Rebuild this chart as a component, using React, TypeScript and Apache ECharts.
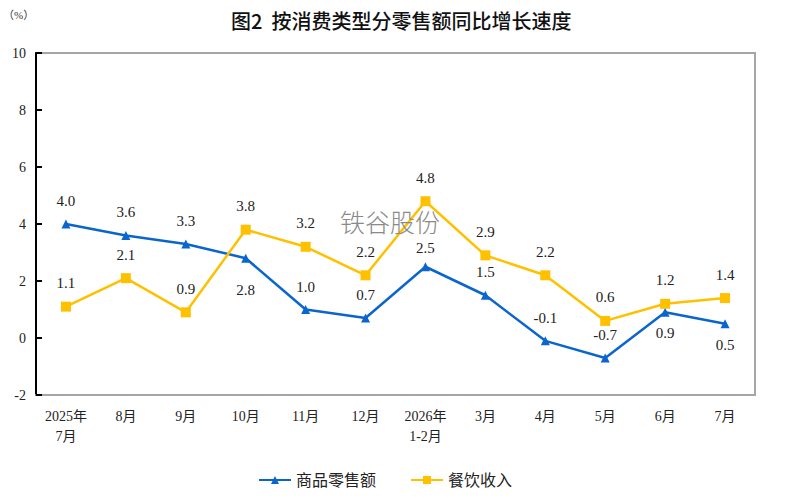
import React, { useEffect, useRef } from "react";
import * as echarts from "echarts";

const categories = ["2025年\n7月", "8月", "9月", "10月", "11月", "12月", "2026年\n1-2月", "3月", "4月", "5月", "6月", "7月"];
const retailValues = [4.0, 3.6, 3.3, 2.8, 1.0, 0.7, 2.5, 1.5, -0.1, -0.7, 0.9, 0.5];
const cateringValues = [1.1, 2.1, 0.9, 3.8, 3.2, 2.2, 4.8, 2.9, 2.2, 0.6, 1.2, 1.4];
const retailLabelPos = ["top", "top", "top", "bottom", "top", "top", "top", "top", "top", "top", "bottom", "bottom"];
const yTicks = { min: -2, max: 10, interval: 2 };

const serif = "'Liberation Serif', 'Times New Roman', 'Noto Sans CJK SC', serif";

export default function App() {
  const ref = useRef<HTMLDivElement>(null);
  useEffect(() => {
    if (!ref.current) return;
    const chart = echarts.init(ref.current, undefined, { renderer: "svg" });
    chart.setOption({
      animation: false,
      backgroundColor: "#ffffff",
      title: {
        text: "图2  按消费类型分零售额同比增长速度",
        left: 226,
        top: 5,
        textStyle: { fontFamily: "'Noto Sans CJK SC', sans-serif", fontSize: 20, fontWeight: 500, color: "#111" },
      },
      graphic: [
        { type: "text", left: 3, top: 9, style: { text: "（%）", font: `11px ${serif}`, fill: "#333" } },
        { type: "text", left: 340, top: 208, z: 100, style: { text: "铁谷股份", font: "300 25px 'Noto Sans CJK SC', sans-serif", lineHeight: 25, fill: "#8a8a8a" } },
      ],
      legend: {
        top: 467,
        left: 253,
        itemGap: 34,
        itemWidth: 32,
        itemHeight: 10,
        textStyle: { fontFamily: serif, fontSize: 16, color: "#222" },
        data: ["商品零售额", "餐饮收入"],
      },
      grid: { left: 36, right: 32, top: 53, bottom: 104, show: true, borderColor: "#a6a6a6", borderWidth: 2 },
      xAxis: {
        type: "category",
        data: categories,
        boundaryGap: true,
        axisLine: { show: true, onZero: false, lineStyle: { color: "#a6a6a6", width: 2 } },
        axisTick: { show: false },
        axisLabel: { fontFamily: serif, fontSize: 14, color: "#222", margin: 11, lineHeight: 20, interval: 0 },
      },
      yAxis: {
        type: "value",
        min: yTicks.min,
        max: yTicks.max,
        interval: yTicks.interval,
        splitLine: { show: false },
        axisLine: { show: true, lineStyle: { color: "#000", width: 2 } },
        axisTick: { show: true, inside: true, length: 6, lineStyle: { color: "#000", width: 2 } },
        axisLabel: { fontFamily: serif, fontSize: 14, color: "#222", margin: 10 },
      },
      series: [
        {
          name: "商品零售额",
          type: "line",
          data: retailValues.map((v, i) => ({
            value: v,
            label: { position: retailLabelPos[i], distance: retailLabelPos[i] === "bottom" ? (i === 3 ? 20 : 9) : (i === 6 ? 7 : 11) },
          })),
          symbol: "triangle",
          symbolSize: 9,
          itemStyle: { color: "#0a66cc" },
          lineStyle: { color: "#0a66cc", width: 2.5 },
          label: { show: true, fontFamily: serif, fontSize: 15, color: "#222", formatter: (p: any) => p.value.toFixed(1) },
        },
        {
          name: "餐饮收入",
          type: "line",
          data: cateringValues,
          symbol: "rect",
          symbolSize: 10,
          itemStyle: { color: "#ffc000" },
          lineStyle: { color: "#ffc000", width: 2.5 },
          label: { show: true, position: "top", distance: 11, fontFamily: serif, fontSize: 15, color: "#222", formatter: (p: any) => p.value.toFixed(1) },
        },
      ],
    });
    return () => chart.dispose();
  }, []);
  return <div ref={ref} style={{ position: "fixed", left: 0, top: 0, width: 787, height: 499 }} />;
}
